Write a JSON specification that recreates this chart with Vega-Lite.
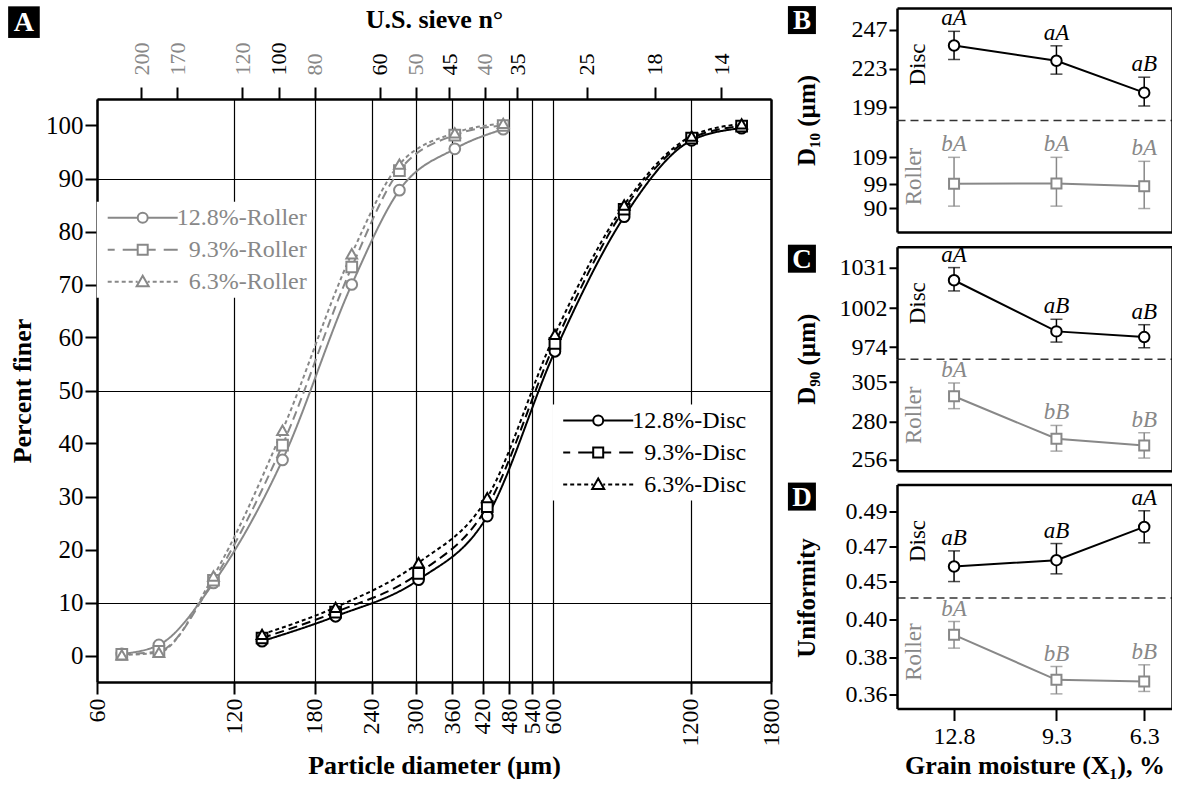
{
"$schema": "https://vega.github.io/schema/vega-lite/v6.json",
"padding": {"left": 8, "top": 5, "right": 0, "bottom": 0},
"background": "white",
"config": {
  "font": "Liberation Serif",
  "view": {"stroke": null},
  "axis": {"domainColor": "black", "tickColor": "black", "labelColor": "black", "titleColor": "black", "labelFont": "Liberation Serif", "titleFont": "Liberation Serif"},
  "legend": {"labelFont": "Liberation Serif"}
},
"datasets": {
  "psd": [
    {"s":"12.8%-Roller","d":68,"pct":0.3},{"s":"12.8%-Roller","d":82,"pct":2.0},{"s":"12.8%-Roller","d":108,"pct":13.7},{"s":"12.8%-Roller","d":153,"pct":36.9},{"s":"12.8%-Roller","d":217,"pct":70.0},{"s":"12.8%-Roller","d":276,"pct":87.8},{"s":"12.8%-Roller","d":365,"pct":95.6},{"s":"12.8%-Roller","d":466,"pct":99.3},
    {"s":"9.3%-Roller","d":68,"pct":0.2},{"s":"9.3%-Roller","d":82,"pct":0.8},{"s":"9.3%-Roller","d":108,"pct":14.2},{"s":"9.3%-Roller","d":153,"pct":39.7},{"s":"9.3%-Roller","d":217,"pct":73.3},{"s":"9.3%-Roller","d":276,"pct":91.5},{"s":"9.3%-Roller","d":365,"pct":98.2},{"s":"9.3%-Roller","d":466,"pct":100.0},
    {"s":"6.3%-Roller","d":68,"pct":0.1},{"s":"6.3%-Roller","d":82,"pct":0.6},{"s":"6.3%-Roller","d":108,"pct":15.0},{"s":"6.3%-Roller","d":153,"pct":42.5},{"s":"6.3%-Roller","d":217,"pct":75.8},{"s":"6.3%-Roller","d":276,"pct":92.7},{"s":"6.3%-Roller","d":365,"pct":98.6},{"s":"6.3%-Roller","d":466,"pct":100.4},
    {"s":"12.8%-Disc","d":138,"pct":2.7},{"s":"12.8%-Disc","d":200,"pct":7.4},{"s":"12.8%-Disc","d":304,"pct":14.3},{"s":"12.8%-Disc","d":430,"pct":26.3},{"s":"12.8%-Disc","d":605,"pct":57.4},{"s":"12.8%-Disc","d":858,"pct":82.8},{"s":"12.8%-Disc","d":1206,"pct":97.2},{"s":"12.8%-Disc","d":1552,"pct":99.5},
    {"s":"9.3%-Disc","d":138,"pct":3.3},{"s":"9.3%-Disc","d":200,"pct":8.2},{"s":"9.3%-Disc","d":304,"pct":15.5},{"s":"9.3%-Disc","d":430,"pct":28.1},{"s":"9.3%-Disc","d":605,"pct":58.9},{"s":"9.3%-Disc","d":858,"pct":84.2},{"s":"9.3%-Disc","d":1206,"pct":97.6},{"s":"9.3%-Disc","d":1552,"pct":99.9},
    {"s":"6.3%-Disc","d":138,"pct":4.0},{"s":"6.3%-Disc","d":200,"pct":9.1},{"s":"6.3%-Disc","d":304,"pct":17.5},{"s":"6.3%-Disc","d":430,"pct":29.8},{"s":"6.3%-Disc","d":605,"pct":60.6},{"s":"6.3%-Disc","d":858,"pct":85.0},{"s":"6.3%-Disc","d":1206,"pct":98.0},{"s":"6.3%-Disc","d":1552,"pct":100.3}
  ],
  "st": [
    {"p":"B","g":"Disc","m":12.8,"mean":237.3,"lo":228.6,"hi":246.1,"lab":"aA"},
    {"p":"B","g":"Disc","m":9.3,"mean":227.8,"lo":219.5,"hi":237.1,"lab":"aA"},
    {"p":"B","g":"Disc","m":6.3,"mean":208.0,"lo":199.7,"hi":217.6,"lab":"aB"},
    {"p":"B","g":"Roller","m":12.8,"mean":99.1,"lo":90.7,"hi":109.0,"lab":"bA"},
    {"p":"B","g":"Roller","m":9.3,"mean":99.2,"lo":90.7,"hi":109.0,"lab":"bA"},
    {"p":"B","g":"Roller","m":6.3,"mean":98.2,"lo":89.8,"hi":107.5,"lab":"bA"},
    {"p":"C","g":"Disc","m":12.8,"mean":1022.1,"lo":1014.4,"hi":1031.2,"lab":"aA"},
    {"p":"C","g":"Disc","m":9.3,"mean":985.3,"lo":977.6,"hi":994.0,"lab":"aB"},
    {"p":"C","g":"Disc","m":6.3,"mean":981.2,"lo":973.5,"hi":990.1,"lab":"aB"},
    {"p":"C","g":"Roller","m":12.8,"mean":296.0,"lo":288.2,"hi":304.4,"lab":"bA"},
    {"p":"C","g":"Roller","m":9.3,"mean":269.2,"lo":261.4,"hi":277.6,"lab":"bB"},
    {"p":"C","g":"Roller","m":6.3,"mean":265.0,"lo":257.0,"hi":273.0,"lab":"bB"},
    {"p":"D","g":"Disc","m":12.8,"mean":0.4586,"lo":0.4500,"hi":0.4675,"lab":"aB"},
    {"p":"D","g":"Disc","m":9.3,"mean":0.4622,"lo":0.4544,"hi":0.4717,"lab":"aB"},
    {"p":"D","g":"Disc","m":6.3,"mean":0.4812,"lo":0.4721,"hi":0.4904,"lab":"aA"},
    {"p":"D","g":"Roller","m":12.8,"mean":0.3920,"lo":0.3849,"hi":0.3991,"lab":"bA"},
    {"p":"D","g":"Roller","m":9.3,"mean":0.3680,"lo":0.3605,"hi":0.3751,"lab":"bB"},
    {"p":"D","g":"Roller","m":6.3,"mean":0.3671,"lo":0.3618,"hi":0.3760,"lab":"bB"}
  ]
},
"spacing": 4,
"hconcat": [
{
 "spacing": 90, "bounds": "flush",
 "vconcat": [
  {"width": 674, "height": 1, "data": {"values": [{}]}, "mark": {"type": "point", "opacity": 0}, "encoding": {}},
  {
  "width": 674, "height": 583,
  "layer": [
    {
      "data": {"name": "psd"},
      "mark": {"type": "line", "interpolate": "monotone", "strokeWidth": 2},
      "encoding": {
        "x": {"field": "d", "type": "quantitative", "scale": {"type": "log", "domain": [60, 1800], "nice": false},
          "axis": {"orient": "bottom", "values": [60,120,180,240,300,360,420,480,540,600,1200,1800], "format": "d", "labelAngle": 270, "labelFontSize": 24, "tickSize": 12, "tickWidth": 2, "domainWidth": 2.5, "grid": true, "gridColor": "black", "gridWidth": 1.2, "gridOpacity": 1, "labelPadding": 4, "labelOverlap": false, "labelFlush": false, "labelBound": false, "title": "Particle diameter (µm)", "titleFontSize": 26, "titleFontWeight": "bold", "titlePadding": 6}},
        "y": {"field": "pct", "type": "quantitative", "scale": {"domain": [-5, 105], "nice": false, "zero": false},
          "axis": {"orient": "left", "values": [0,10,20,30,40,50,60,70,80,90,100], "labelFontSize": 25, "tickSize": 12, "tickWidth": 2, "domainWidth": 2.5, "labelPadding": 2, "grid": false, "title": "Percent finer", "titleFontSize": 26, "titleFontWeight": "bold", "titlePadding": 10}},
        "color": {"field": "s", "type": "nominal", "scale": {"domain": ["12.8%-Roller","9.3%-Roller","6.3%-Roller","12.8%-Disc","9.3%-Disc","6.3%-Disc"], "range": ["#888888","#888888","#888888","#000000","#000000","#000000"]}, "legend": null},
        "strokeDash": {"field": "s", "type": "nominal", "scale": {"domain": ["12.8%-Roller","9.3%-Roller","6.3%-Roller","12.8%-Disc","9.3%-Disc","6.3%-Disc"], "range": [[1,0],[9,5],[4,3],[1,0],[9,5],[4,3]]}, "legend": null}
      }
    },
    {
      "data": {"name": "psd"},
      "mark": {"type": "point", "filled": false, "fill": "white", "strokeWidth": 2, "size": 115, "opacity": 1},
      "encoding": {
        "x": {"field": "d", "type": "quantitative",
          "axis": {"orient": "top", "values": [75,90,125,150,180,250,300,355,425,500,710,1000,1400], "labelExpr": "datum.value == 75 ? '200' : datum.value == 90 ? '170' : datum.value == 125 ? '120' : datum.value == 150 ? '100' : datum.value == 180 ? '80' : datum.value == 250 ? '60' : datum.value == 300 ? '50' : datum.value == 355 ? '45' : datum.value == 425 ? '40' : datum.value == 500 ? '35' : datum.value == 710 ? '25' : datum.value == 1000 ? '18' : '14'", "labelAngle": 270, "labelFontSize": 22, "labelPadding": 12, "tickSize": 12, "tickWidth": 2, "domainWidth": 2.5, "grid": false, "labelOverlap": false, "labelFlush": false, "labelBound": false,
            "labelColor": {"condition": {"test": "indexof([75,90,125,180,300,425], datum.value) >= 0", "value": "#888888"}, "value": "black"},
            "title": "U.S. sieve n°", "titleFontSize": 26, "titleFontWeight": "bold", "titlePadding": 10}},
        "y": {"field": "pct", "type": "quantitative",
          "axis": {"orient": "right", "values": [10, 50, 90], "ticks": false, "labels": false, "domainWidth": 2.5, "grid": true, "gridColor": "black", "gridWidth": 1.2, "gridOpacity": 1, "title": null}},
        "color": {"field": "s", "type": "nominal", "legend": null},
        "shape": {"field": "s", "type": "nominal", "scale": {"domain": ["12.8%-Roller","9.3%-Roller","6.3%-Roller","12.8%-Disc","9.3%-Disc","6.3%-Disc"], "range": ["circle","square","triangle-up","circle","square","triangle-up"]}, "legend": null}
      }
    },
    {
      "data": {"name": "psd"},
      "transform": [{"filter": "indexof(datum.s, 'Roller') >= 0"}],
      "mark": {"type": "point", "size": 0, "stroke": "#888888", "fill": "white", "strokeWidth": 2, "opacity": 1, "filled": false},
      "encoding": {
        "x": {"field": "d", "type": "quantitative", "axis": null},
        "y": {"field": "pct", "type": "quantitative", "axis": null},
        "shape": {"field": "s", "type": "nominal",
          "scale": {"domain": ["12.8%-Roller","9.3%-Roller","6.3%-Roller"], "range": [
            "M-1,0L5,0M7,0L13,0M7,0A1,1,0,1,1,5,0A1,1,0,1,1,7,0",
            "M-1,0L0.4,0M2,0L5,0M7,0L8.6,0M10.2,0L13,0M5,-1L7,-1L7,1L5,1Z",
            "M-1,0L-0.2,0M0.4,0L1.2,0M1.8,0L2.6,0M3.2,0L4,0M4.6,0L5,0M7,0L7.4,0M8,0L8.8,0M9.4,0L10.2,0M10.8,0L11.6,0M12.2,0L13,0M6,-1.2L7.2,0.9L4.8,0.9Z"]},
          "legend": {"title": null, "orient": "none", "legendX": -0.3, "legendY": 102.7, "symbolSize": 100, "symbolStrokeWidth": 2, "labelFontSize": 24, "labelColor": "#888888", "labelAlign": "right", "labelOffset": 182, "labelLimit": 400, "rowPadding": 8, "fillColor": "white", "padding": 4}}
      }
    },
    {
      "data": {"name": "psd"},
      "transform": [{"filter": "indexof(datum.s, 'Disc') >= 0"}],
      "mark": {"type": "point", "size": 0, "stroke": "#000000", "fill": "white", "strokeWidth": 2, "opacity": 1, "filled": false},
      "encoding": {
        "x": {"field": "d", "type": "quantitative", "axis": null},
        "y": {"field": "pct", "type": "quantitative", "axis": null},
        "shape": {"field": "s", "type": "nominal",
          "scale": {"domain": ["12.8%-Disc","9.3%-Disc","6.3%-Disc"], "range": [
            "M-1,0L5,0M7,0L13,0M7,0A1,1,0,1,1,5,0A1,1,0,1,1,7,0",
            "M-1,0L0.4,0M2,0L5,0M7,0L8.6,0M10.2,0L13,0M5,-1L7,-1L7,1L5,1Z",
            "M-1,0L-0.2,0M0.4,0L1.2,0M1.8,0L2.6,0M3.2,0L4,0M4.6,0L5,0M7,0L7.4,0M8,0L8.8,0M9.4,0L10.2,0M10.8,0L11.6,0M12.2,0L13,0M6,-1.2L7.2,0.9L4.8,0.9Z"]},
          "legend": {"title": null, "orient": "none", "legendX": 455.2, "legendY": 305.6, "symbolSize": 100, "symbolStrokeWidth": 2, "labelFontSize": 24, "labelColor": "#000000", "labelAlign": "right", "labelOffset": 166, "labelLimit": 400, "rowPadding": 8, "fillColor": "white", "padding": 4}}
      }
    },
    {
      "data": {"values": [{}]},
      "mark": {"type": "point", "shape": "square", "size": 1000, "filled": true, "color": "black", "opacity": 1, "clip": false},
      "encoding": {"x": {"datum": 41.5, "type": "quantitative", "axis": null}, "y": {"datum": 119.5, "type": "quantitative", "axis": null}}
    },
    {
      "data": {"values": [{}]},
      "mark": {"type": "text", "text": "A", "color": "white", "fontWeight": "bold", "fontSize": 28, "align": "center", "baseline": "middle", "dy": 1, "clip": false},
      "encoding": {"x": {"datum": 41.5, "type": "quantitative", "axis": null}, "y": {"datum": 119.5, "type": "quantitative", "axis": null}}
    }
  ],
  "resolve": {"axis": {"x": "independent", "y": "independent"}, "scale": {"shape": "independent"}, "legend": {"shape": "independent"}}
  }
 ]
},
{
  "spacing": 10.75,
  "vconcat": [
    {"spacing": 0, "bounds": "flush", "vconcat": [
      {"width": 275, "height": 112, "data": {"name": "st"}, "transform": [{"filter": "datum.p == 'B' && datum.g == 'Disc'"}],
       "layer": [
        {"mark": {"type": "rule", "color": "black", "strokeWidth": 1.5},
         "encoding": {
          "x": {"field": "m", "type": "quantitative", "scale": {"domain": [14.75, 5.35], "nice": false, "zero": false}, "axis": {"orient": "bottom", "ticks": false, "labels": false, "title": null, "grid": false, "domainDash": [8,5], "domainWidth": 1.5, "domainColor": "#333333"}},
          "y": {"field": "lo", "type": "quantitative", "scale": {"domain": [191, 260.6], "nice": false, "zero": false}, "axis": {"orient": "left", "values": [199,223,247], "format": "d", "grid": false, "labelFontSize": 24, "tickSize": 8, "tickWidth": 2, "domainWidth": 2.5, "labelPadding": 2, "title": "D₁₀ (µm)", "titleFontSize": 25, "titleFontWeight": "bold", "titleX": -91, "titleY": 112, "titleAngle": 270, "titleAlign": "center", "titleBaseline": "middle"}},
          "y2": {"field": "hi"}}},
        {"mark": {"type": "tick", "orient": "horizontal", "color": "black", "size": 12, "thickness": 1.5},
         "encoding": {
          "x": {"field": "m", "type": "quantitative", "axis": {"orient": "top", "ticks": false, "labels": false, "title": null, "grid": false, "domainWidth": 2.5}},
          "y": {"field": "lo", "type": "quantitative", "axis": {"orient": "right", "ticks": false, "labels": false, "grid": false, "domainWidth": 2.5, "title": "Disc", "titleX": -255, "titleY": 56, "titleAngle": 270, "titleAlign": "center", "titleBaseline": "middle", "titleFontSize": 23, "titleFontWeight": "normal", "titleColor": "black"}}}},
        {"mark": {"type": "tick", "orient": "horizontal", "color": "black", "size": 12, "thickness": 1.5},
         "encoding": {"x": {"field": "m", "type": "quantitative", "axis": null}, "y": {"field": "hi", "type": "quantitative", "axis": null}}},
        {"mark": {"type": "line", "color": "black", "strokeWidth": 2},
         "encoding": {"x": {"field": "m", "type": "quantitative", "axis": null}, "y": {"field": "mean", "type": "quantitative", "axis": null}}},
        {"mark": {"type": "point", "shape": "circle", "size": 110, "filled": false, "fill": "white", "stroke": "black", "strokeWidth": 2, "opacity": 1},
         "encoding": {"x": {"field": "m", "type": "quantitative", "axis": null}, "y": {"field": "mean", "type": "quantitative", "axis": null}}},
        {"mark": {"type": "text", "fontStyle": "italic", "fontSize": 23, "baseline": "alphabetic", "dy": -6, "color": "black"},
         "encoding": {"x": {"field": "m", "type": "quantitative", "axis": null}, "y": {"field": "hi", "type": "quantitative", "axis": null}, "text": {"field": "lab"}}},
        {"data": {"values": [{}]}, "mark": {"type": "point", "shape": "square", "size": 784, "filled": true, "color": "black", "opacity": 1, "clip": false},
         "encoding": {"x": {"datum": 18.0, "type": "quantitative", "axis": null}, "y": {"datum": 253.1, "type": "quantitative", "axis": null}}},
        {"data": {"values": [{}]}, "mark": {"type": "text", "text": "B", "color": "white", "fontWeight": "bold", "fontSize": 27, "align": "center", "baseline": "middle", "dy": 1, "clip": false},
         "encoding": {"x": {"datum": 18.0, "type": "quantitative", "axis": null}, "y": {"datum": 253.1, "type": "quantitative", "axis": null}}}
       ],
       "resolve": {"axis": {"x": "independent", "y": "independent"}}},
      {"width": 275, "height": 112, "data": {"name": "st"}, "transform": [{"filter": "datum.p == 'B' && datum.g == 'Roller'"}],
       "layer": [
        {"mark": {"type": "rule", "color": "#888888", "strokeWidth": 1.5},
         "encoding": {
          "x": {"field": "m", "type": "quantitative", "scale": {"domain": [14.75, 5.35], "nice": false, "zero": false}, "axis": {"orient": "bottom", "ticks": false, "labels": false, "title": null, "grid": false, "domainWidth": 2.5}},
          "y": {"field": "lo", "type": "quantitative", "scale": {"domain": [81, 123], "nice": false, "zero": false}, "axis": {"orient": "left", "values": [90,99,109], "format": "d", "grid": false, "labelFontSize": 24, "tickSize": 8, "tickWidth": 2, "domainWidth": 2.5, "labelPadding": 2, "title": null}},
          "y2": {"field": "hi"}}},
        {"mark": {"type": "tick", "orient": "horizontal", "color": "#888888", "size": 12, "thickness": 1.5},
         "encoding": {
          "x": {"field": "m", "type": "quantitative", "axis": null},
          "y": {"field": "lo", "type": "quantitative", "axis": {"orient": "right", "ticks": false, "labels": false, "grid": false, "domainWidth": 2.5, "title": "Roller", "titleX": -259, "titleY": 56, "titleAngle": 270, "titleAlign": "center", "titleBaseline": "middle", "titleFontSize": 23, "titleFontWeight": "normal", "titleColor": "#888888"}}}},
        {"mark": {"type": "tick", "orient": "horizontal", "color": "#888888", "size": 12, "thickness": 1.5},
         "encoding": {"x": {"field": "m", "type": "quantitative", "axis": null}, "y": {"field": "hi", "type": "quantitative", "axis": null}}},
        {"mark": {"type": "line", "color": "#888888", "strokeWidth": 2},
         "encoding": {"x": {"field": "m", "type": "quantitative", "axis": null}, "y": {"field": "mean", "type": "quantitative", "axis": null}}},
        {"mark": {"type": "point", "shape": "square", "size": 100, "filled": false, "fill": "white", "stroke": "#888888", "strokeWidth": 2, "opacity": 1},
         "encoding": {"x": {"field": "m", "type": "quantitative", "axis": null}, "y": {"field": "mean", "type": "quantitative", "axis": null}}},
        {"mark": {"type": "text", "fontStyle": "italic", "fontSize": 23, "baseline": "alphabetic", "dy": -6, "color": "#888888"},
         "encoding": {"x": {"field": "m", "type": "quantitative", "axis": null}, "y": {"field": "hi", "type": "quantitative", "axis": null}, "text": {"field": "lab"}}}
       ],
       "resolve": {"axis": {"x": "independent", "y": "independent"}}}
    ]},
    {"spacing": 0, "bounds": "flush", "vconcat": [
      {"width": 275, "height": 112, "data": {"name": "st"}, "transform": [{"filter": "datum.p == 'C' && datum.g == 'Disc'"}],
       "layer": [
        {"mark": {"type": "rule", "color": "black", "strokeWidth": 1.5},
         "encoding": {
          "x": {"field": "m", "type": "quantitative", "scale": {"domain": [14.75, 5.35], "nice": false, "zero": false}, "axis": {"orient": "bottom", "ticks": false, "labels": false, "title": null, "grid": false, "domainDash": [8,5], "domainWidth": 1.5, "domainColor": "#333333"}},
          "y": {"field": "lo", "type": "quantitative", "scale": {"domain": [965.6, 1046.2], "nice": false, "zero": false}, "axis": {"orient": "left", "values": [974,1002,1031], "format": "d", "grid": false, "labelFontSize": 24, "tickSize": 8, "tickWidth": 2, "domainWidth": 2.5, "labelPadding": 2, "title": "D₉₀ (µm)", "titleFontSize": 25, "titleFontWeight": "bold", "titleX": -91, "titleY": 112, "titleAngle": 270, "titleAlign": "center", "titleBaseline": "middle"}},
          "y2": {"field": "hi"}}},
        {"mark": {"type": "tick", "orient": "horizontal", "color": "black", "size": 12, "thickness": 1.5},
         "encoding": {
          "x": {"field": "m", "type": "quantitative", "axis": {"orient": "top", "ticks": false, "labels": false, "title": null, "grid": false, "domainWidth": 2.5}},
          "y": {"field": "lo", "type": "quantitative", "axis": {"orient": "right", "ticks": false, "labels": false, "grid": false, "domainWidth": 2.5, "title": "Disc", "titleX": -255, "titleY": 56, "titleAngle": 270, "titleAlign": "center", "titleBaseline": "middle", "titleFontSize": 23, "titleFontWeight": "normal", "titleColor": "black"}}}},
        {"mark": {"type": "tick", "orient": "horizontal", "color": "black", "size": 12, "thickness": 1.5},
         "encoding": {"x": {"field": "m", "type": "quantitative", "axis": null}, "y": {"field": "hi", "type": "quantitative", "axis": null}}},
        {"mark": {"type": "line", "color": "black", "strokeWidth": 2},
         "encoding": {"x": {"field": "m", "type": "quantitative", "axis": null}, "y": {"field": "mean", "type": "quantitative", "axis": null}}},
        {"mark": {"type": "point", "shape": "circle", "size": 110, "filled": false, "fill": "white", "stroke": "black", "strokeWidth": 2, "opacity": 1},
         "encoding": {"x": {"field": "m", "type": "quantitative", "axis": null}, "y": {"field": "mean", "type": "quantitative", "axis": null}}},
        {"mark": {"type": "text", "fontStyle": "italic", "fontSize": 23, "baseline": "alphabetic", "dy": -6, "color": "black"},
         "encoding": {"x": {"field": "m", "type": "quantitative", "axis": null}, "y": {"field": "hi", "type": "quantitative", "axis": null}, "text": {"field": "lab"}}},
        {"data": {"values": [{}]}, "mark": {"type": "point", "shape": "square", "size": 784, "filled": true, "color": "black", "opacity": 1, "clip": false},
         "encoding": {"x": {"datum": 18.0, "type": "quantitative", "axis": null}, "y": {"datum": 1037.6, "type": "quantitative", "axis": null}}},
        {"data": {"values": [{}]}, "mark": {"type": "text", "text": "C", "color": "white", "fontWeight": "bold", "fontSize": 27, "align": "center", "baseline": "middle", "dy": 1, "clip": false},
         "encoding": {"x": {"datum": 18.0, "type": "quantitative", "axis": null}, "y": {"datum": 1037.6, "type": "quantitative", "axis": null}}}
       ],
       "resolve": {"axis": {"x": "independent", "y": "independent"}}},
      {"width": 275, "height": 112, "data": {"name": "st"}, "transform": [{"filter": "datum.p == 'C' && datum.g == 'Roller'"}],
       "layer": [
        {"mark": {"type": "rule", "color": "#888888", "strokeWidth": 1.5},
         "encoding": {
          "x": {"field": "m", "type": "quantitative", "scale": {"domain": [14.75, 5.35], "nice": false, "zero": false}, "axis": {"orient": "bottom", "ticks": false, "labels": false, "title": null, "grid": false, "domainWidth": 2.5}},
          "y": {"field": "lo", "type": "quantitative", "scale": {"domain": [249, 319.7], "nice": false, "zero": false}, "axis": {"orient": "left", "values": [256,280,305], "format": "d", "grid": false, "labelFontSize": 24, "tickSize": 8, "tickWidth": 2, "domainWidth": 2.5, "labelPadding": 2, "title": null}},
          "y2": {"field": "hi"}}},
        {"mark": {"type": "tick", "orient": "horizontal", "color": "#888888", "size": 12, "thickness": 1.5},
         "encoding": {
          "x": {"field": "m", "type": "quantitative", "axis": null},
          "y": {"field": "lo", "type": "quantitative", "axis": {"orient": "right", "ticks": false, "labels": false, "grid": false, "domainWidth": 2.5, "title": "Roller", "titleX": -259, "titleY": 56, "titleAngle": 270, "titleAlign": "center", "titleBaseline": "middle", "titleFontSize": 23, "titleFontWeight": "normal", "titleColor": "#888888"}}}},
        {"mark": {"type": "tick", "orient": "horizontal", "color": "#888888", "size": 12, "thickness": 1.5},
         "encoding": {"x": {"field": "m", "type": "quantitative", "axis": null}, "y": {"field": "hi", "type": "quantitative", "axis": null}}},
        {"mark": {"type": "line", "color": "#888888", "strokeWidth": 2},
         "encoding": {"x": {"field": "m", "type": "quantitative", "axis": null}, "y": {"field": "mean", "type": "quantitative", "axis": null}}},
        {"mark": {"type": "point", "shape": "square", "size": 100, "filled": false, "fill": "white", "stroke": "#888888", "strokeWidth": 2, "opacity": 1},
         "encoding": {"x": {"field": "m", "type": "quantitative", "axis": null}, "y": {"field": "mean", "type": "quantitative", "axis": null}}},
        {"mark": {"type": "text", "fontStyle": "italic", "fontSize": 23, "baseline": "alphabetic", "dy": -6, "color": "#888888"},
         "encoding": {"x": {"field": "m", "type": "quantitative", "axis": null}, "y": {"field": "hi", "type": "quantitative", "axis": null}, "text": {"field": "lab"}}}
       ],
       "resolve": {"axis": {"x": "independent", "y": "independent"}}}
    ]},
    {"spacing": 0, "bounds": "flush", "vconcat": [
      {"width": 275, "height": 113, "data": {"name": "st"}, "transform": [{"filter": "datum.p == 'D' && datum.g == 'Disc'"}],
       "layer": [
        {"mark": {"type": "rule", "color": "black", "strokeWidth": 1.5},
         "encoding": {
          "x": {"field": "m", "type": "quantitative", "scale": {"domain": [14.75, 5.35], "nice": false, "zero": false}, "axis": {"orient": "bottom", "ticks": false, "labels": false, "title": null, "grid": false, "domainDash": [8,5], "domainWidth": 1.5, "domainColor": "#333333"}},
          "y": {"field": "lo", "type": "quantitative", "scale": {"domain": [0.4409, 0.5054], "nice": false, "zero": false}, "axis": {"orient": "left", "values": [0.45,0.47,0.49], "format": ".2f", "grid": false, "labelFontSize": 24, "tickSize": 8, "tickWidth": 2, "domainWidth": 2.5, "labelPadding": 2, "title": "Uniformity", "titleFontSize": 25, "titleFontWeight": "bold", "titleX": -91, "titleY": 113, "titleAngle": 270, "titleAlign": "center", "titleBaseline": "middle"}},
          "y2": {"field": "hi"}}},
        {"mark": {"type": "tick", "orient": "horizontal", "color": "black", "size": 12, "thickness": 1.5},
         "encoding": {
          "x": {"field": "m", "type": "quantitative", "axis": {"orient": "top", "ticks": false, "labels": false, "title": null, "grid": false, "domainWidth": 2.5}},
          "y": {"field": "lo", "type": "quantitative", "axis": {"orient": "right", "ticks": false, "labels": false, "grid": false, "domainWidth": 2.5, "title": "Disc", "titleX": -255, "titleY": 56, "titleAngle": 270, "titleAlign": "center", "titleBaseline": "middle", "titleFontSize": 23, "titleFontWeight": "normal", "titleColor": "black"}}}},
        {"mark": {"type": "tick", "orient": "horizontal", "color": "black", "size": 12, "thickness": 1.5},
         "encoding": {"x": {"field": "m", "type": "quantitative", "axis": null}, "y": {"field": "hi", "type": "quantitative", "axis": null}}},
        {"mark": {"type": "line", "color": "black", "strokeWidth": 2},
         "encoding": {"x": {"field": "m", "type": "quantitative", "axis": null}, "y": {"field": "mean", "type": "quantitative", "axis": null}}},
        {"mark": {"type": "point", "shape": "circle", "size": 110, "filled": false, "fill": "white", "stroke": "black", "strokeWidth": 2, "opacity": 1},
         "encoding": {"x": {"field": "m", "type": "quantitative", "axis": null}, "y": {"field": "mean", "type": "quantitative", "axis": null}}},
        {"mark": {"type": "text", "fontStyle": "italic", "fontSize": 23, "baseline": "alphabetic", "dy": -6, "color": "black"},
         "encoding": {"x": {"field": "m", "type": "quantitative", "axis": null}, "y": {"field": "hi", "type": "quantitative", "axis": null}, "text": {"field": "lab"}}},
        {"data": {"values": [{}]}, "mark": {"type": "point", "shape": "square", "size": 784, "filled": true, "color": "black", "opacity": 1, "clip": false},
         "encoding": {"x": {"datum": 18.0, "type": "quantitative", "axis": null}, "y": {"datum": 0.4985, "type": "quantitative", "axis": null}}},
        {"data": {"values": [{}]}, "mark": {"type": "text", "text": "D", "color": "white", "fontWeight": "bold", "fontSize": 27, "align": "center", "baseline": "middle", "dy": 1, "clip": false},
         "encoding": {"x": {"datum": 18.0, "type": "quantitative", "axis": null}, "y": {"datum": 0.4985, "type": "quantitative", "axis": null}}}
       ],
       "resolve": {"axis": {"x": "independent", "y": "independent"}}},
      {"width": 275, "height": 111, "data": {"name": "st"}, "transform": [{"filter": "datum.p == 'D' && datum.g == 'Roller'"}],
       "layer": [
        {"mark": {"type": "rule", "color": "#888888", "strokeWidth": 1.5},
         "encoding": {
          "x": {"field": "m", "type": "quantitative", "scale": {"domain": [14.75, 5.35], "nice": false, "zero": false}, "axis": {"orient": "bottom", "values": [12.8, 9.3, 6.3], "format": ".1f", "grid": false, "labelFontSize": 24, "tickSize": 12, "tickWidth": 2, "domainWidth": 2.5, "labelPadding": 4, "labelFlush": false, "title": "Grain moisture (X₁), %", "titleFontSize": 26, "titleFontWeight": "bold", "titlePadding": 4}},
          "y": {"field": "lo", "type": "quantitative", "scale": {"domain": [0.3527, 0.4119], "nice": false, "zero": false}, "axis": {"orient": "left", "values": [0.36,0.38,0.40], "format": ".2f", "grid": false, "labelFontSize": 24, "tickSize": 8, "tickWidth": 2, "domainWidth": 2.5, "labelPadding": 2, "title": null}},
          "y2": {"field": "hi"}}},
        {"mark": {"type": "tick", "orient": "horizontal", "color": "#888888", "size": 12, "thickness": 1.5},
         "encoding": {
          "x": {"field": "m", "type": "quantitative", "axis": null},
          "y": {"field": "lo", "type": "quantitative", "axis": {"orient": "right", "ticks": false, "labels": false, "grid": false, "domainWidth": 2.5, "title": "Roller", "titleX": -259, "titleY": 54, "titleAngle": 270, "titleAlign": "center", "titleBaseline": "middle", "titleFontSize": 23, "titleFontWeight": "normal", "titleColor": "#888888"}}}},
        {"mark": {"type": "tick", "orient": "horizontal", "color": "#888888", "size": 12, "thickness": 1.5},
         "encoding": {"x": {"field": "m", "type": "quantitative", "axis": null}, "y": {"field": "hi", "type": "quantitative", "axis": null}}},
        {"mark": {"type": "line", "color": "#888888", "strokeWidth": 2},
         "encoding": {"x": {"field": "m", "type": "quantitative", "axis": null}, "y": {"field": "mean", "type": "quantitative", "axis": null}}},
        {"mark": {"type": "point", "shape": "square", "size": 100, "filled": false, "fill": "white", "stroke": "#888888", "strokeWidth": 2, "opacity": 1},
         "encoding": {"x": {"field": "m", "type": "quantitative", "axis": null}, "y": {"field": "mean", "type": "quantitative", "axis": null}}},
        {"mark": {"type": "text", "fontStyle": "italic", "fontSize": 23, "baseline": "alphabetic", "dy": -6, "color": "#888888"},
         "encoding": {"x": {"field": "m", "type": "quantitative", "axis": null}, "y": {"field": "hi", "type": "quantitative", "axis": null}, "text": {"field": "lab"}}}
       ],
       "resolve": {"axis": {"x": "independent", "y": "independent"}}}
    ]}
  ]
}
]
}
